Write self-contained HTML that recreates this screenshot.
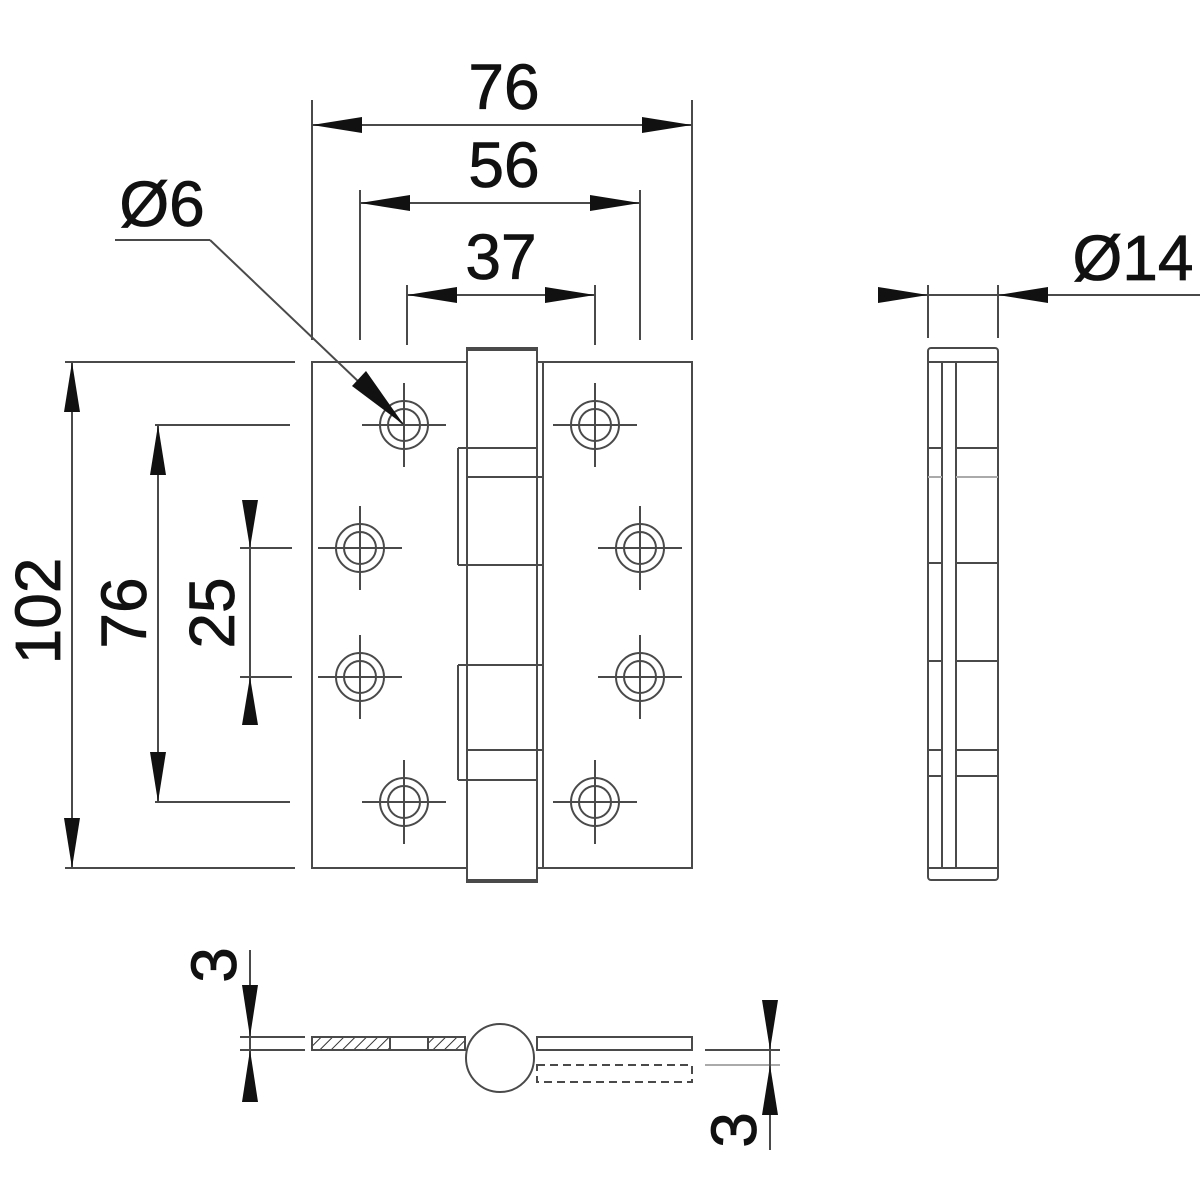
<!DOCTYPE html>
<html><head><style>html,body{margin:0;padding:0;background:#fff}svg{display:block}</style></head><body>
<svg width="1200" height="1200" viewBox="0 0 1200 1200" xmlns="http://www.w3.org/2000/svg">
<defs>
<pattern id="h" width="8" height="8" patternUnits="userSpaceOnUse" patternTransform="rotate(45)">
<line x1="0" y1="0" x2="0" y2="8" stroke="#333" stroke-width="2"/>
</pattern>
</defs>
<g fill="none" stroke="#4a4a4a" stroke-width="2">
<line x1="312" y1="100" x2="312" y2="340"/>
<line x1="692" y1="100" x2="692" y2="340"/>
<line x1="360" y1="190" x2="360" y2="340"/>
<line x1="640" y1="190" x2="640" y2="340"/>
<line x1="407" y1="285" x2="407" y2="345"/>
<line x1="595" y1="285" x2="595" y2="345"/>
<line x1="312" y1="125" x2="692" y2="125"/>
<line x1="360" y1="203" x2="640" y2="203"/>
<line x1="407" y1="295" x2="595" y2="295"/>
<line x1="65" y1="362" x2="295" y2="362"/>
<line x1="65" y1="868" x2="295" y2="868"/>
<line x1="155" y1="425" x2="290" y2="425"/>
<line x1="155" y1="802" x2="290" y2="802"/>
<line x1="240" y1="548" x2="292" y2="548"/>
<line x1="240" y1="677" x2="292" y2="677"/>
<line x1="72" y1="362" x2="72" y2="868"/>
<line x1="158" y1="425" x2="158" y2="802"/>
<line x1="250" y1="500" x2="250" y2="725"/>
<line x1="115" y1="240" x2="210" y2="240"/>
<line x1="210" y1="240" x2="404" y2="425"/>
<rect x="312" y="362" width="155" height="506"/>
<rect x="543" y="362" width="149" height="506"/>
<rect x="467" y="348" width="70" height="534" fill="#fff"/>
<line x1="467" y1="350" x2="537" y2="350"/>
<line x1="467" y1="880" x2="537" y2="880"/>
<line x1="537" y1="362" x2="543" y2="362"/>
<line x1="537" y1="868" x2="543" y2="868"/>
<line x1="543" y1="362" x2="543" y2="477"/>
<line x1="543" y1="565" x2="543" y2="665"/>
<line x1="543" y1="750" x2="543" y2="868"/>
<line x1="458" y1="448" x2="537" y2="448"/>
<line x1="467" y1="477" x2="543" y2="477"/>
<line x1="458" y1="565" x2="543" y2="565"/>
<line x1="458" y1="665" x2="543" y2="665"/>
<line x1="467" y1="750" x2="543" y2="750"/>
<line x1="458" y1="780" x2="537" y2="780"/>
<line x1="458" y1="448" x2="458" y2="565"/>
<line x1="458" y1="665" x2="458" y2="780"/>
<rect x="928" y="348" width="70" height="532" rx="3"/>
<line x1="928" y1="362" x2="998" y2="362"/>
<line x1="928" y1="868" x2="998" y2="868"/>
<line x1="942" y1="362" x2="942" y2="868"/>
<line x1="956" y1="362" x2="956" y2="868"/>
<line x1="928" y1="448" x2="942" y2="448"/><line x1="956" y1="448" x2="998" y2="448"/>
<line x1="928" y1="477" x2="942" y2="477" stroke="#aaa"/><line x1="956" y1="477" x2="998" y2="477" stroke="#aaa"/>
<line x1="928" y1="563" x2="942" y2="563"/><line x1="956" y1="563" x2="998" y2="563"/>
<line x1="928" y1="661" x2="942" y2="661"/><line x1="956" y1="661" x2="998" y2="661"/>
<line x1="928" y1="750" x2="942" y2="750"/><line x1="956" y1="750" x2="998" y2="750"/>
<line x1="928" y1="776" x2="942" y2="776"/><line x1="956" y1="776" x2="998" y2="776"/>
<line x1="928" y1="285" x2="928" y2="338"/>
<line x1="998" y1="285" x2="998" y2="338"/>
<line x1="878" y1="295" x2="1200" y2="295"/>
<line x1="240" y1="1037" x2="305" y2="1037"/>
<line x1="240" y1="1050" x2="305" y2="1050"/>
<line x1="250" y1="950" x2="250" y2="1100"/>
<rect x="312" y="1037" width="153" height="13"/>
<rect x="312" y="1037" width="78" height="13" fill="url(#h)"/>
<rect x="428" y="1037" width="37" height="13" fill="url(#h)"/>
<rect x="537" y="1037" width="155" height="13"/>
<rect x="537" y="1065" width="155" height="17" stroke-dasharray="8,5"/>
<circle cx="500" cy="1058" r="34" fill="#fff"/>
<line x1="705" y1="1050" x2="780" y2="1050"/>
<line x1="705" y1="1065" x2="780" y2="1065" stroke="#aaa"/>
<line x1="770" y1="1000" x2="770" y2="1150"/>
</g>
<g fill="none" stroke="#4a4a4a" stroke-width="2">
<g transform="translate(404,425)"><circle r="24"/><circle r="16"/><path d="M-42 0H42M0 -42V42"/></g>
<g transform="translate(360,548)"><circle r="24"/><circle r="16"/><path d="M-42 0H42M0 -42V42"/></g>
<g transform="translate(360,677)"><circle r="24"/><circle r="16"/><path d="M-42 0H42M0 -42V42"/></g>
<g transform="translate(404,802)"><circle r="24"/><circle r="16"/><path d="M-42 0H42M0 -42V42"/></g>
<g transform="translate(595,425)"><circle r="24"/><circle r="16"/><path d="M-42 0H42M0 -42V42"/></g>
<g transform="translate(640,548)"><circle r="24"/><circle r="16"/><path d="M-42 0H42M0 -42V42"/></g>
<g transform="translate(640,677)"><circle r="24"/><circle r="16"/><path d="M-42 0H42M0 -42V42"/></g>
<g transform="translate(595,802)"><circle r="24"/><circle r="16"/><path d="M-42 0H42M0 -42V42"/></g>
</g>
<g fill="#111">
<polygon points="312,125 362,117 362,133"/>
<polygon points="692,125 642,117 642,133"/>
<polygon points="360,203 410,195 410,211"/>
<polygon points="640,203 590,195 590,211"/>
<polygon points="407,295 457,287 457,303"/>
<polygon points="595,295 545,287 545,303"/>
<polygon points="928,295 878,287 878,303"/>
<polygon points="998,295 1048,287 1048,303"/>
<polygon points="72,362 64,412 80,412"/>
<polygon points="72,868 64,818 80,818"/>
<polygon points="158,425 150,475 166,475"/>
<polygon points="158,802 150,752 166,752"/>
<polygon points="250,548 242,500 258,500"/>
<polygon points="250,677 242,725 258,725"/>
<polygon points="250,1037 242,985 258,985"/>
<polygon points="250,1050 242,1102 258,1102"/>
<polygon points="770,1050 762,1000 778,1000"/>
<polygon points="770,1065 762,1115 778,1115"/>
<polygon points="404,425 352,386 366,371"/>
</g>
<g font-family="Liberation Sans, sans-serif" font-size="64" fill="#111" text-anchor="middle" stroke="#111" stroke-width="0.8">
<text x="504" y="109">76</text>
<text x="504" y="187">56</text>
<text x="501" y="279">37</text>
<text x="162" y="226">Ø6</text>
<text x="1133" y="280">Ø14</text>
<text transform="translate(60,611) rotate(-90)">102</text>
<text transform="translate(146,613) rotate(-90)">76</text>
<text transform="translate(234,613) rotate(-90)">25</text>
<text transform="translate(236,965) rotate(-90)">3</text>
<text transform="translate(756,1130) rotate(-90)">3</text>
</g>
</svg>
</body></html>
